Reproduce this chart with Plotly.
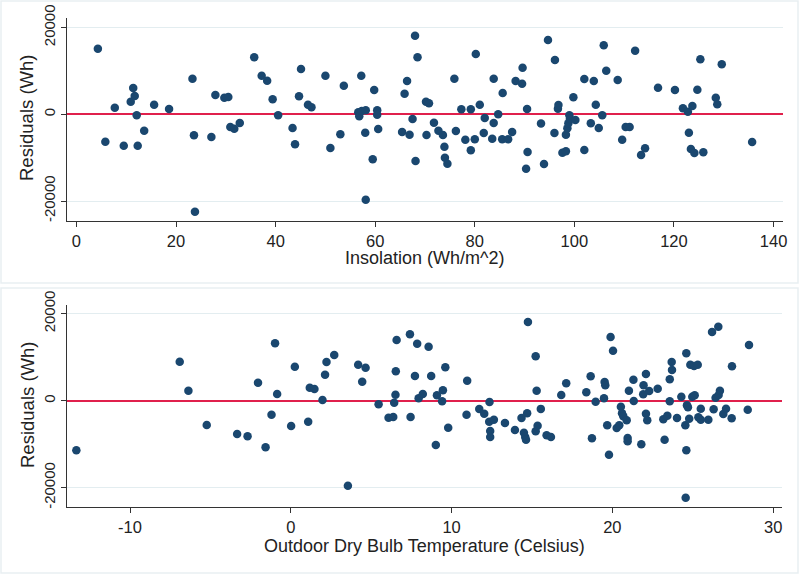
import plotly.graph_objects as go

# ---------------- Data: top panel (Insolation) ----------------
insolation = [4.3, 5.8, 7.7, 9.5, 11.4, 10.9, 11.7, 12.1, 12.3, 13.6, 15.6, 18.6, 23.3, 23.6, 23.8,
              27.1, 27.9, 29.7, 30.5, 30.9, 31.7, 32.8, 35.7, 37.2, 38.3, 39.4, 40.5,
              43.4, 43.9, 45.1, 44.7, 46.5, 47.2, 50.0, 51.0, 53.0, 53.7, 57.2, 56.6, 56.8, 57.3,
              58.1, 58.0, 58.1, 59.5, 59.8, 60.4, 60.4, 60.6, 65.4, 65.9, 66.4, 66.9, 67.5, 68.0,
              68.5, 68.1, 70.2, 70.8, 70.3, 71.8, 72.7, 73.6, 73.9, 74.0, 74.5, 75.9, 76.2, 77.3,
              78.1, 79.2, 79.2, 80.0, 80.2, 81.0, 82.0, 81.8, 83.8, 83.8, 83.5, 84.7, 85.6, 85.5,
              86.7, 87.5, 88.2, 89.5, 89.6, 90.5, 90.6, 90.3, 93.3,
              94.7, 96.1, 96.7, 96.8, 96.0, 93.9, 98.3, 98.6, 98.8, 99.0, 99.1, 97.6, 98.3, 99.8,
              100.2, 102.0, 102.0, 103.3, 103.9, 104.3, 104.9, 105.6, 105.9, 106.4, 108.7, 109.6,
              110.3, 111.1, 112.2, 113.4, 114.2, 116.8, 120.2, 121.8, 122.8, 123.7, 123.0, 123.4,
              124.1, 125.9, 124.7, 125.3, 128.4, 128.7, 129.6, 135.7]
resid_insolation = [15140, -6320, 1530, -7240, 6070, 2910, 4220, -230, -7240, -3780, 2220, 1220, 8210, -4850, -22470,
                    -5240, 4450, 3830, 3990, -2930, -3320, -2010, 13150, 8900, 7750, 3460, -230,
                    -3160, -6920, 10450, 4150, 2220, 1610, 8900, -7770, -4620, 6600, 8900, 460, -460, 760,
                    920, -4240, -19700, -10380, 5610, 920, -90, -3390, -4080, 4760, 7680, -4700, -1080, 18130,
                    13150, -10770, 2910, 2540, -4780, -1940, -3780, -4780, -7470, -10010, -11390, 8210, -3850, 1150,
                    -5860, 1150, -8310, -5770, 13910, 2220, -850, -4310, -2010, 8210, -5630, 0, 4910, -5770,
                    -5770, -4080, 7680, 7060, 10750, 1220, -8700, -12550, -2100,
                    17140, 12530, 1300, 2150, -4310, -11470, -4700, -3230, -2080, -230, -1080, -8860, -8540, 3920,
                    -1310, -8240, 8140, -2080, 7680, 2220, -3160, -230, 15920, 10060, 7910, -5860,
                    -2930, -2930, 14670, -9390, -7840, 6140, 5610, 1380, 600, 1920, -4240, -8010,
                    -8930, -8770, 5680, 12690, 3830, 2310, 11530, -6390]

# ---------------- Data: bottom panel (Dry bulb temperature) ----------------
temperature = [-13.34, -6.91, -6.37, -5.23, -3.34, -2.69, -1.57, -2.04, -0.98, -0.85, -1.20,
               0.02, 0.25, 1.08, 1.18, 1.47, 1.97, 2.13, 2.22, 2.70, 3.55, 4.19, 4.65, 4.44,
               5.46, 6.08, 6.37, 6.43, 6.51, 6.53, 6.58, 7.41, 7.45, 7.86, 7.72, 7.95, 8.21,
               8.57, 8.73, 9.02, 9.09, 9.41, 9.46, 9.61, 9.79, 10.97, 10.93, 11.72, 12.03, 12.36,
               12.34, 12.63, 12.40, 12.40, 13.32, 13.94, 14.35, 14.70, 14.50, 14.58, 14.63, 14.75,
               15.23, 15.29, 15.55, 15.23, 15.35,
               15.91, 16.18, 16.82, 17.13, 18.38, 18.65, 18.73, 18.96, 19.48, 19.52, 19.56, 19.68,
               19.79, 19.89, 20.04, 20.27, 20.43, 20.53, 20.60, 20.68, 20.89, 20.95, 20.95, 21.03,
               21.33, 21.31, 21.80, 21.92, 21.94, 22.09, 22.09, 22.17, 22.29, 22.82, 23.17, 23.42,
               23.25, 23.57, 23.57, 23.69, 23.71, 24.02, 24.29, 24.54, 24.60, 24.60, 24.56, 24.64,
               24.70, 24.78, 24.85, 25.08, 25.31, 24.97, 25.12, 25.35, 25.50, 25.50, 25.97, 26.20,
               26.59, 26.30, 26.42, 26.61, 26.69, 26.90, 27.07, 27.42, 27.44, 28.42, 28.50]
resid_temperature = [-11400, 8970, 2300, -5590, -7660, -8190, -10720, 4140, 13190, 1540, -3220,
                     -5820, 7820, -4830, 2990, 2690, 160, 5980, 8900, 10510, -19540, 8280, 7590, 4370,
                     -830, -3910, -3750, -460, 1380, 6760, 13950, 15260, -3750, 13100, 5680, 550, 1540,
                     12420, 5680, -10180, 1240, -140, 2390, 7680, -6210, 4600, -3220, -1910, -2990, -300,
                     -4830, -4370, -6970, -8350, -5130, -6740, -3980, -2900, -7360, -8350, -8970, 18090,
                     10200, 2300, -1880, -7040, -5750,
                     -7950, -8350, 1310, 4000, 1930, 5610, -8640, -230, 550, 4300, 3540, -5660,
                     -12410, 14640, 11490, -6280, -5660, -1380, -2900, -3590, -4510, -8580, -9340, 2300,
                     -70, 4830, -10020, 1470, 3540, 6140, -2990, -4510, 2230, 2760, -4280, -3450,
                     -8970, -140, 4920, 8900, 7060, -3980, 920, -5660, 10900, -11400, -22300, -1060,
                     -1520, -4140, 8280, 7980, 8280, 920, 1240, -3820, -4370, -1840, -4370, 15790,
                     17010, -1980, 690, 1310, 2300, -3060, -1840, -4050, 7910, -2070, 12810]

ytick_vals = [-20000, 0, 20000]
ytick_text = ["-20000", "0", "20000"]
x1_ticks = [0, 20, 40, 60, 80, 100, 120, 140]
x1_text = ["0", "20", "40", "60", "80", "100", "120", "140"]
x2_ticks = [-10, 0, 10, 20, 30]
x2_text = ["-10", "0", "10", "20", "30"]

MARKER = "#1a476f"
RED = "#e0204c"
AXIS = "#333333"
GRID = "#e3edf0"
FONT = "Liberation Sans, Arial, sans-serif"

W, H = 800, 575

def px_x(p):
    return p / W

def px_y(p):
    return 1 - p / H

fig = go.Figure()
fig.add_trace(go.Scatter(x=insolation, y=resid_insolation, mode="markers",
                         marker=dict(color=MARKER, size=8.5, line=dict(width=0)),
                         xaxis="x", yaxis="y", showlegend=False))
fig.add_trace(go.Scatter(x=temperature, y=resid_temperature, mode="markers",
                         marker=dict(color=MARKER, size=8.5, line=dict(width=0)),
                         xaxis="x2", yaxis="y2", showlegend=False))

xcommon = dict(showline=True, linecolor=AXIS, linewidth=1.3, ticks="outside", ticklen=5,
               tickcolor=AXIS, tickwidth=1.2, showgrid=False, zeroline=False, automargin=False,
               tickfont=dict(family=FONT, size=16.5, color="#222222"))
ycommon = dict(showline=True, linecolor=AXIS, linewidth=1.3, ticks="outside", ticklen=5,
               tickcolor=AXIS, tickwidth=1.2, showgrid=True, gridcolor=GRID, gridwidth=1.2,
               zeroline=True, zerolinecolor=RED, zerolinewidth=1.6,
               tickvals=ytick_vals, ticktext=ytick_text, tickangle=-90,
               automargin=False, tickfont=dict(family=FONT, size=15, color="#222222"))

fig.update_layout(
    width=W, height=H,
    margin=dict(l=0, r=0, t=0, b=0, pad=0),
    paper_bgcolor="white", plot_bgcolor="white",
    xaxis=dict(domain=[px_x(67), px_x(783)], range=[-1.9, 141.9], tickvals=x1_ticks,
               ticktext=x1_text, anchor="y", **xcommon),
    yaxis=dict(domain=[px_y(220.7), px_y(18)], range=[-24545, 22215], anchor="x", **ycommon),
    xaxis2=dict(domain=[px_x(66.7), px_x(782.3)], range=[-13.94, 30.57], tickvals=x2_ticks,
                ticktext=x2_text, anchor="y2", **xcommon),
    yaxis2=dict(domain=[px_y(507.3), px_y(305)], range=[-24506, 22000], anchor="x2", **ycommon),
    shapes=[
        dict(type="rect", xref="paper", yref="paper", x0=px_x(1), x1=px_x(798),
             y0=px_y(283), y1=px_y(1), line=dict(color="#e9eff2", width=1.5)),
        dict(type="rect", xref="paper", yref="paper", x0=px_x(1), x1=px_x(798),
             y0=px_y(573), y1=px_y(288), line=dict(color="#e9eff2", width=1.5)),
    ],
    annotations=[
        dict(text="Insolation (Wh/m^2)", xref="paper", yref="paper", x=px_x(425), y=px_y(258),
             xanchor="center", yanchor="middle", showarrow=False,
             font=dict(family=FONT, size=18, color="#222222")),
        dict(text="Residuals (Wh)", xref="paper", yref="paper", x=px_x(27), y=px_y(118),
             xanchor="center", yanchor="middle", showarrow=False, textangle=-90,
             font=dict(family=FONT, size=18.5, color="#222222")),
        dict(text="Outdoor Dry Bulb Temperature (Celsius)", xref="paper", yref="paper",
             x=px_x(424), y=px_y(546), xanchor="center", yanchor="middle", showarrow=False,
             font=dict(family=FONT, size=18, color="#222222")),
        dict(text="Residuals (Wh)", xref="paper", yref="paper", x=px_x(27), y=px_y(405),
             xanchor="center", yanchor="middle", showarrow=False, textangle=-90,
             font=dict(family=FONT, size=18.5, color="#222222")),
    ],
)

fig.write_html("out.html", config={"displayModeBar": False})

# remove the browser's default page margin so the 800x575 figure fills the window exactly
with open("out.html", "r", encoding="utf-8") as f:
    html = f.read()
html = html.replace("<head>", "<head><style>html,body{margin:0;padding:0;overflow:hidden;}</style>", 1)
with open("out.html", "w", encoding="utf-8") as f:
    f.write(html)
